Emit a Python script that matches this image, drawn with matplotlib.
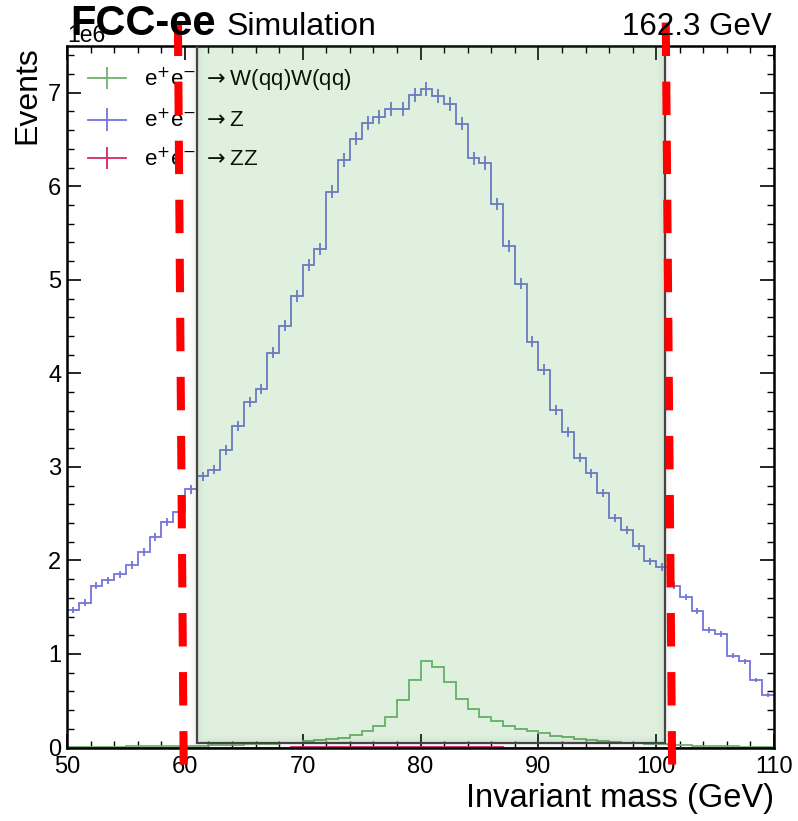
import numpy as np
import matplotlib
matplotlib.use("Agg")
import matplotlib.pyplot as plt
from matplotlib.patches import Rectangle
from matplotlib.ticker import AutoMinorLocator

plt.rcParams['font.family'] = ['Liberation Sans', 'DejaVu Sans']
plt.rcParams['mathtext.fontset'] = 'custom'
plt.rcParams['mathtext.rm'] = 'Liberation Sans'
plt.rcParams['mathtext.it'] = 'Liberation Sans:italic'
plt.rcParams['mathtext.bf'] = 'Liberation Sans:bold'

# bin edges, 1 GeV bins from 50 to 110
edges = np.arange(50, 111, 1)

# events per bin, in units of 1e6
ww_vals = [0.006, 0.007, 0.008, 0.009, 0.010, 0.011, 0.012, 0.014, 0.015, 0.017,
           0.019, 0.021, 0.024, 0.027, 0.030, 0.034, 0.038, 0.042, 0.047, 0.053,
           0.070, 0.077, 0.090, 0.105, 0.130, 0.178, 0.233, 0.330, 0.510, 0.725,
           0.920, 0.864, 0.696, 0.523, 0.410, 0.330, 0.280, 0.235, 0.200, 0.178,
           0.150, 0.128, 0.114, 0.093, 0.080, 0.070, 0.060, 0.050, 0.045, 0.040,
           0.035, 0.030, 0.025, 0.020, 0.016, 0.013, 0.011, 0.009, 0.008, 0.007]

z_vals = [1.47, 1.55, 1.73, 1.79, 1.85, 1.95, 2.09, 2.25, 2.41, 2.52,
          2.76, 2.90, 2.97, 3.18, 3.44, 3.69, 3.83, 4.22, 4.51, 4.83,
          5.16, 5.33, 5.94, 6.28, 6.51, 6.68, 6.74, 6.83, 6.83, 6.98,
          7.04, 6.97, 6.88, 6.67, 6.30, 6.25, 5.81, 5.36, 4.96, 4.34,
          4.04, 3.61, 3.37, 3.10, 2.93, 2.72, 2.45, 2.33, 2.15, 1.99,
          1.93, 1.73, 1.61, 1.46, 1.26, 1.21, 0.98, 0.92, 0.72, 0.56]

zz_vals = [0.000, 0.000, 0.000, 0.000, 0.000, 0.000, 0.000, 0.000, 0.000, 0.000,
           0.000, 0.000, 0.000, 0.000, 0.000, 0.000, 0.000, 0.000, 0.000, 0.004,
           0.005, 0.005, 0.006, 0.006, 0.007, 0.007, 0.008, 0.008, 0.009, 0.009,
           0.009, 0.009, 0.008, 0.008, 0.007, 0.006, 0.005, 0.000, 0.000, 0.000,
           0.000, 0.000, 0.000, 0.000, 0.000, 0.000, 0.000, 0.000, 0.000, 0.000,
           0.000, 0.000, 0.000, 0.000, 0.000, 0.000, 0.000, 0.000, 0.000, 0.000]

labels = [r"e$^{+}$e$^{-}$ $\rightarrow$W(qq)W(qq)",
          r"e$^{+}$e$^{-}$ $\rightarrow$Z",
          r"e$^{+}$e$^{-}$ $\rightarrow$ZZ"]
colors = ['#6fb26f', '#7474dc', '#d8286a']
weights = [60, 800, 10]   # per-event weight, only used for the error bars

# selection window and cut lines
window = (61.05, 100.78)
cut_left = ([59.41, 59.91], [7.75, -0.35])
cut_right = ([100.81, 101.36], [7.75, -0.35])

fig = plt.figure(figsize=(7.98, 8.21), dpi=100)
ax = fig.add_axes([0.084, 0.0895, 0.886, 0.8545])

centers = 0.5 * (edges[1:] + edges[:-1])
handles = []
for vals, c, w, lab in zip([ww_vals, z_vals, zz_vals], colors, weights, labels):
    y = np.array(vals) * 1e6
    ax.stairs(y, edges, color=c, lw=1.3, baseline=None, zorder=2)
    ax.errorbar(centers, y, yerr=np.sqrt(y * w), fmt='none', ecolor=c,
                elinewidth=1.3, zorder=2)
    h = ax.errorbar([np.nan], [np.nan], yerr=[1.0], color=c, lw=1.3, label=lab)
    handles.append(h)

leg = ax.legend(handles, labels, loc='upper left', bbox_to_anchor=(0.030, 0.972),
                frameon=False, fontsize=16, handlelength=1.7, borderaxespad=0,
                borderpad=0, labelspacing=0.68)
for t in leg.get_texts():
    t.set_math_fontfamily('dejavusans')

# soft shadow around the window
for lw in [10, 6]:
    ax.add_patch(Rectangle((window[0], 0.045e6), window[1] - window[0], 7.6e6,
                           fill=False, edgecolor='black', alpha=0.018, lw=lw,
                           zorder=5.5))
ax.add_patch(Rectangle((window[0], 0.045e6), window[1] - window[0], 7.6e6,
                       facecolor=(44/255, 160/255, 44/255, 0.15),
                       edgecolor='#444444', lw=1.6, zorder=6))

for xs, ys in [cut_left, cut_right]:
    ax.plot(xs, np.array(ys) * 1e6, color='red', lw=5.8, dashes=(4.15, 3.18),
            clip_on=False, zorder=7)

ax.set_xlim(50, 110)
ax.set_ylim(0, 7.5e6)
ax.xaxis.set_minor_locator(AutoMinorLocator(5))
ax.yaxis.set_minor_locator(AutoMinorLocator(5))
ax.tick_params(which='both', direction='in', top=True, right=True)
ax.tick_params(which='major', length=10, width=1.2, labelsize=17, pad=6)
ax.tick_params(which='minor', length=5, width=1.0)
ax.tick_params(axis='y', which='major', pad=4)
ax.yaxis.get_offset_text().set_fontsize(16.5)
for s in ax.spines.values():
    s.set_linewidth(1.8)

ax.set_xlabel('Invariant mass (GeV)', fontsize=23.5, loc='right')
ax.set_ylabel('Events', fontsize=23, loc='top')

ax.text(0.004, 1.016, 'FCC-ee', fontsize=30, fontweight='bold',
        transform=ax.transAxes, va='baseline', ha='left', zorder=10)
ax.text(0.226, 1.016, 'Simulation', fontsize=23,
        transform=ax.transAxes, va='baseline', ha='left', zorder=10)
ax.text(0.997, 1.016, '162.3 GeV', fontsize=22.5,
        transform=ax.transAxes, va='baseline', ha='right', zorder=10)

fig.savefig('out.png', dpi=100)
